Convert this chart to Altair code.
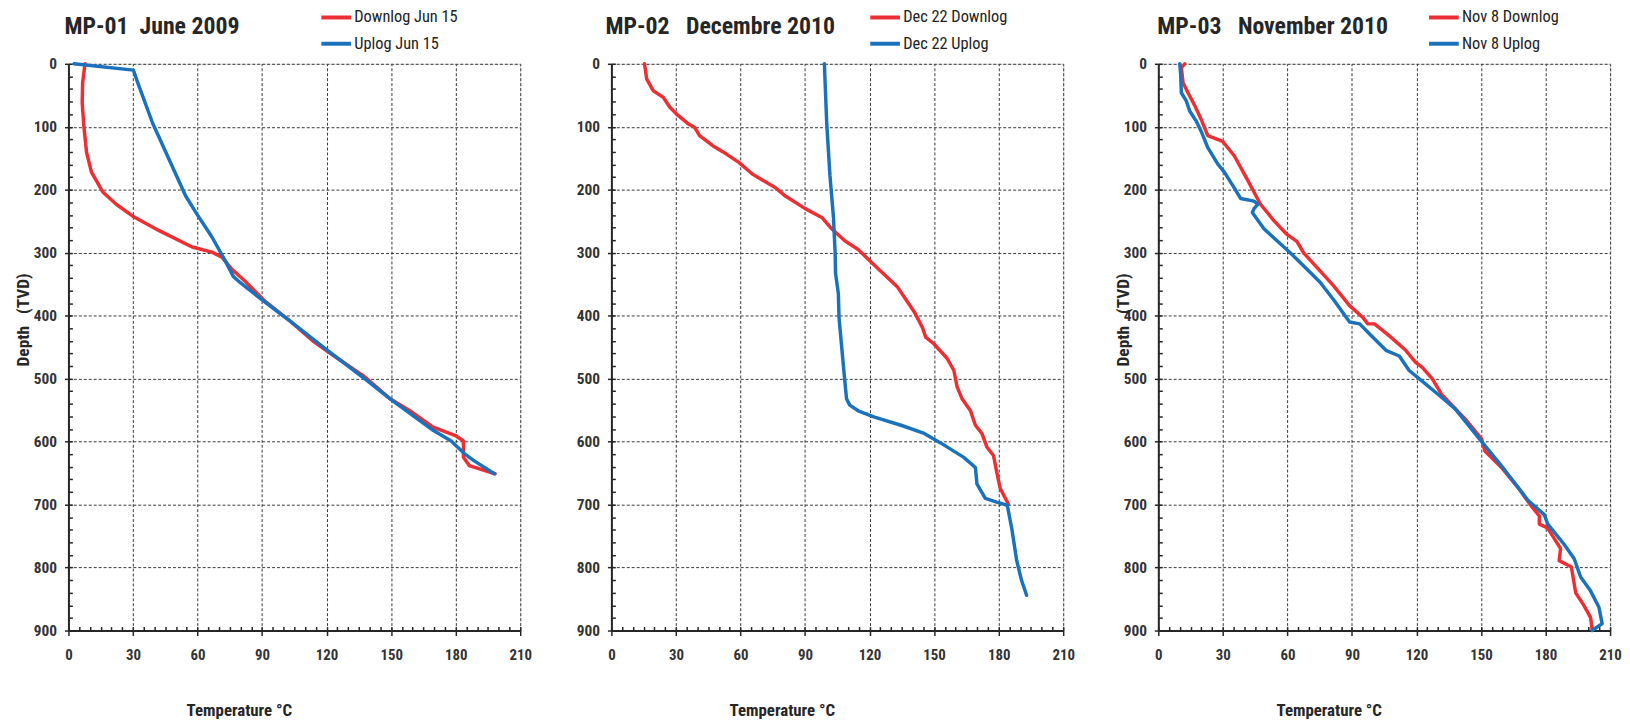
import altair as alt
import pandas as pd

FONT = "Liberation Sans Narrow, Arial Narrow, Noto Sans Condensed, Roboto Condensed, DejaVu Sans Condensed, sans-serif"
RED = "#EC2F33"
BLUE = "#1A72BC"
INK = "#262626"
NB = "\u00a0"

# ---------------- data ----------------
titles = ["MP-01" + NB * 2 + "June 2009", "MP-02" + NB * 3 + "Decembre 2010", "MP-03" + NB * 3 + "November 2010"]
down_names = ["Downlog Jun 15", "Dec 22 Downlog", "Nov 8 Downlog"]
up_names = ["Uplog Jun 15", "Dec 22 Uplog", "Nov 8 Uplog"]
y_title = "Depth" + NB * 3 + "(TVD)"
x_title = "Temperature °C"

p1_down_temp = [7.7, 6.6, 6.4, 7.2, 8.4, 10.7, 16.1, 22.2, 29.9, 42.2, 57.5, 66.7, 71.3, 75.9, 82.0,
                91.3, 103.5, 114.3, 123.5, 137.3, 149.5, 158.7, 169.5, 180.2, 183.6, 183.6, 186.3, 198.3]
p1_down_depth = [0, 30, 62, 100, 140, 172, 204, 223, 242, 265, 291, 299, 307, 326, 345,
                 377, 410, 442, 464, 496, 532, 551, 577, 591, 599, 625, 638, 651]
p1_up_temp = [2.6, 30.2, 32.2, 39.1, 46.8, 54.5, 59.8, 66.7, 72.9, 76.7, 79.0, 89.7, 103.5, 120.4,
              138.8, 149.5, 169.5, 177.9, 184.0, 188.8, 198.0]
p1_up_depth = [0, 10, 30, 94, 152, 210, 239, 275, 313, 338, 345, 374, 410, 455,
               503, 532, 582, 599, 619, 631, 651]

p2_down_temp = [15.4, 16.4, 19.5, 24.1, 27.2, 31.0, 35.6, 38.7, 41.0, 47.1, 53.3, 59.4, 65.5, 76.3,
                80.9, 90.1, 97.8, 102.4, 108.5, 114.7, 122.3, 133.1, 140.8, 144.6, 146.1, 150.0,
                156.1, 159.2, 160.7, 163.0, 166.9, 169.2, 172.2, 174.6, 177.6, 179.1, 180.7, 184.5]
p2_down_depth = [0, 24, 43, 53, 69, 82, 95, 101, 114, 130, 143, 157, 175, 197,
                 210, 230, 244, 262, 281, 295, 320, 355, 394, 419, 434, 445,
                 468, 487, 513, 532, 551, 574, 587, 609, 622, 648, 674, 699]
p2_up_temp = [99.0, 100.1, 101.6, 103.2, 104.0, 104.2, 105.5, 105.8, 107.0, 108.2, 109.3, 110.8,
              114.7, 122.3, 134.6, 145.4, 153.0, 163.8, 169.2, 169.9, 173.8, 179.1, 184.0, 186.1,
              188.4, 190.7, 193.0]
p2_up_depth = [0, 95, 178, 243, 300, 333, 365, 403, 448, 493, 532, 542,
               551, 561, 574, 587, 602, 625, 641, 667, 690, 696, 701, 738,
               789, 821, 844]

p3_down_temp = [12.3, 10.7, 11.5, 13.8, 16.9, 19.9, 23.0, 29.9, 35.3, 41.4, 47.5, 53.7, 59.8, 64.4,
                67.5, 73.6, 81.3, 88.9, 95.1, 97.4, 100.5, 107.4, 115.0, 119.6, 122.7, 127.3, 131.9,
                142.6, 150.3, 151.8, 159.5, 167.2, 173.3, 177.1, 177.1, 180.9, 187.0, 186.3, 192.0,
                194.0, 197.8, 200.9, 201.7]
p3_down_depth = [0, 6, 30, 46, 66, 88, 114, 123, 146, 184, 223, 249, 271, 282,
                 300, 323, 352, 384, 403, 413, 413, 432, 455, 474, 482, 500, 526,
                 564, 596, 615, 641, 673, 702, 718, 731, 737, 770, 789, 799,
                 840, 860, 879, 899]
p3_up_temp = [10.0, 10.4, 10.7, 13.0, 14.6, 17.6, 19.9, 23.0, 27.6, 30.7, 35.3, 38.3, 44.5, 46.3,
              44.5, 43.7, 49.1, 55.2, 61.3, 69.0, 75.2, 81.3, 88.9, 93.6, 98.2, 105.8, 112.0,
              116.6, 121.2, 130.4, 138.0, 150.3, 161.0, 171.8, 179.4, 181.0, 188.6, 193.3, 196.3,
              200.9, 204.8, 206.3, 201.7]
p3_up_depth = [0, 17, 46, 59, 75, 91, 107, 133, 159, 172, 197, 214, 218, 223,
               230, 236, 262, 281, 300, 326, 347, 374, 410, 413, 429, 455, 464,
               487, 500, 526, 548, 600, 645, 693, 716, 731, 763, 786, 815,
               837, 863, 889, 900]

x_ticks = [0, 30, 60, 90, 120, 150, 180, 210]
x_minor = list(range(0, 211, 5))
y_ticks = [0, 100, 200, 300, 400, 500, 600, 700, 800, 900]
y_minor = list(range(0, 901, 20))


def make_df(down_name, up_name, dt, dd, ut, ud):
    rows = []
    for i, (t, d) in enumerate(zip(dt, dd)):
        rows.append({"temp": t, "depth": d, "series": down_name, "idx": i})
    for i, (t, d) in enumerate(zip(ut, ud)):
        rows.append({"temp": t, "depth": d, "series": up_name, "idx": i})
    return pd.DataFrame(rows)


W, H = 456, 572


def panel(k, dt, dd, ut, ud, legend_x, ytitle, ytitle_x, title_dx):
    df = make_df(down_names[k], up_names[k], dt, dd, ut, ud)
    xs = alt.Scale(domain=[0, 210], nice=False, zero=False)
    ys = alt.Scale(domain=[0, 900], reverse=True, nice=False, zero=False)
    base = alt.Chart(df)
    main_axis_x = alt.Axis(
        orient="bottom",
        values=x_ticks, grid=True, gridDash=[3, 2], gridColor="#3a3a3a", gridWidth=1,
        domainColor=INK, domainWidth=2, tickColor=INK, tickSize=5, tickWidth=1.5,
        labelFont=FONT, labelFontSize=15, labelFontWeight="bold", labelColor="#333",
        labelPadding=12, labelFlush=False,
        title=x_title, titleFont=FONT, titleFontSize=17, titleFontWeight="bold",
        titleColor=INK, titleX=172, titleY=81, titleAlign="center", titleBaseline="middle",
    )
    ax_y_kwargs = dict(
        orient="left",
        values=y_ticks, grid=True, gridDash=[3, 2], gridColor="#3a3a3a", gridWidth=1,
        domainColor=INK, domainWidth=2, tickColor=INK, tickSize=4, tickWidth=1.5,
        labelFont=FONT, labelFontSize=15.5, labelFontWeight="bold", labelColor="#333",
        labelPadding=8, labelFlush=False,
    )
    if ytitle:
        ax_y_kwargs.update(dict(
            title=ytitle, titleFont=FONT, titleFontSize=17.5, titleFontWeight="bold",
            titleColor=INK, titleX=ytitle_x, titleY=258, titleAngle=270,
            titleAlign="center", titleBaseline="middle"))
    else:
        ax_y_kwargs.update(dict(title=None))
    main_axis_y = alt.Axis(**ax_y_kwargs)

    lines = base.mark_line(strokeWidth=3.5, strokeJoin="round", strokeCap="round").encode(
        x=alt.X("temp:Q", scale=xs, axis=main_axis_x),
        y=alt.Y("depth:Q", scale=ys, axis=main_axis_y),
        color=alt.Color(
            "series:N",
            scale=alt.Scale(domain=[down_names[k], up_names[k]], range=[RED, BLUE]),
            legend=alt.Legend(
                orient="none", legendX=legend_x, legendY=-55, title=None,
                symbolType="M-2.5,0H2.5", symbolSize=144, symbolStrokeWidth=4,
                labelFont=FONT, labelFontSize=16.5, labelColor="#222", labelOffset=10,
                rowPadding=9.5, padding=0, direction="vertical",
            ),
        ),
        order=alt.Order("idx:Q"),
        detail="series:N",
    )
    minor = base.mark_line(opacity=0).encode(
        x=alt.X("temp:Q", scale=xs, axis=alt.Axis(
            orient="bottom", values=x_minor, grid=False, domain=False, labels=False,
            ticks=True, tickSize=4, tickWidth=1.5, tickColor=INK, offset=-4, title=None)),
        y=alt.Y("depth:Q", scale=ys, axis=alt.Axis(
            orient="left", values=y_minor, grid=False, domain=False, labels=False,
            ticks=True, tickSize=4, tickWidth=1.5, tickColor=INK, offset=-4, title=None)),
        detail="series:N",
    )
    return alt.layer(minor, lines).resolve_axis(x="independent", y="independent").properties(
        width=W, height=H,
        title=alt.TitleParams(
            text=titles[k], anchor="start", font=FONT, fontSize=24, fontWeight="bold",
            color=INK, dx=title_dx, offset=-49, baseline="alphabetic", frame="group"),
    )


c1 = panel(0, p1_down_temp, p1_down_depth, p1_up_temp, p1_up_depth, 262, y_title, -45, -4)
c2 = panel(1, p2_down_temp, p2_down_depth, p2_up_temp, p2_up_depth, 268, None, 0, -6)
c3 = panel(2, p3_down_temp, p3_down_depth, p3_up_temp, p3_up_depth, 280, y_title, -35, -1)

right_pair = alt.hconcat(c2, c3, spacing=96, bounds="flush").resolve_scale(
    color="independent").resolve_legend(color="independent")

chart = alt.hconcat(c1, right_pair, spacing=92, bounds="flush").resolve_scale(
    color="independent").resolve_legend(color="independent").properties(
    padding={"left": 6, "top": -3, "right": 0, "bottom": 0}
).configure_view(stroke="#3a3a3a", strokeDash=[3, 2], strokeWidth=1).configure(
    background="white")

chart.save("out.html", embed_options={"renderer": "svg", "actions": False})
